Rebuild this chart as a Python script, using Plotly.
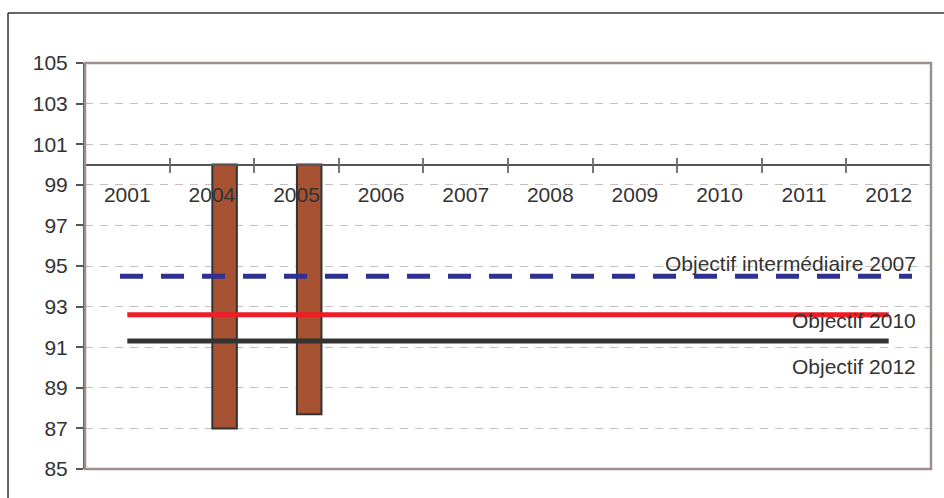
import plotly.graph_objects as go

# Categories on the horizontal axis
years = ["2001", "2004", "2005", "2006", "2007", "2008", "2009", "2010", "2011", "2012"]

# Indicator values (bars hang from the 100 baseline)
bar_years = ["2004", "2005"]
bar_values = [87.0, 87.7]
baseline = 100

# Target levels
objectif_2007 = [94.5] * len(years)
objectif_2010 = [92.6] * len(years)
objectif_2012 = [91.3] * len(years)

y_ticks = list(range(85, 106, 2))

idx = {y: i for i, y in enumerate(years)}
xs = [idx[y] for y in years]
bar_x = [idx[y] for y in bar_years]
boundaries = [i - 0.5 for i in range(len(years) + 1)]

FONT = "Liberation Sans, Arial, sans-serif"
TXT = "#333333"
AX = "#555555"

fig = go.Figure()

fig.add_trace(go.Bar(
    x=bar_x, y=[v - baseline for v in bar_values], base=baseline,
    width=0.29, offset=0.005,
    marker=dict(color="#a65233", line=dict(color="#333333", width=2)),
    showlegend=False, hoverinfo="skip",
))

fig.add_trace(go.Scatter(
    x=xs, y=objectif_2007, mode="lines", xaxis="x3",
    line=dict(color="#2e3192", width=5, dash="23px,18px"),
    showlegend=False, hoverinfo="skip",
))
fig.add_trace(go.Scatter(
    x=xs, y=objectif_2010, mode="lines",
    line=dict(color="#ee1c25", width=5),
    showlegend=False, hoverinfo="skip",
))
fig.add_trace(go.Scatter(
    x=xs, y=objectif_2012, mode="lines",
    line=dict(color="#333333", width=5),
    showlegend=False, hoverinfo="skip",
))
# helper traces so the tick-only axes are drawn
fig.add_trace(go.Scatter(x=[None], y=[None], xaxis="x2", showlegend=False, hoverinfo="skip"))
fig.add_trace(go.Scatter(x=[None], y=[None], xaxis="x4", showlegend=False, hoverinfo="skip"))

axis_pos = (baseline - y_ticks[0]) / (y_ticks[-1] - y_ticks[0])
xr = [-0.5, len(years) - 0.5]

fig.update_layout(
    width=944, height=498,
    margin=dict(l=85, r=13, t=63, b=29),
    paper_bgcolor="white", plot_bgcolor="white",
    font=dict(family=FONT, size=21, color=TXT),
    xaxis=dict(
        range=xr, anchor="free", position=axis_pos,
        tickmode="array", tickvals=xs, ticktext=years, ticks="",
        ticklabelstandoff=11,
        showline=True, linecolor=AX, linewidth=2,
        showgrid=False, zeroline=False,
        tickfont=dict(family=FONT, size=21, color=TXT),
    ),
    xaxis2=dict(
        range=xr, overlaying="x", anchor="free", position=axis_pos,
        tickmode="array", tickvals=boundaries, ticks="inside", ticklen=7,
        tickwidth=1.5, tickcolor="#777777",
        showticklabels=False, showline=False, showgrid=False, zeroline=False,
    ),
    xaxis4=dict(
        range=xr, overlaying="x", anchor="free", position=axis_pos,
        tickmode="array", tickvals=boundaries, ticks="outside", ticklen=7,
        tickwidth=1.5, tickcolor="#777777",
        showticklabels=False, showline=False, showgrid=False, zeroline=False,
    ),
    xaxis3=dict(
        range=[-0.398, 9.216], overlaying="x", visible=False,
    ),
    yaxis=dict(
        range=[y_ticks[0], y_ticks[-1]], tickmode="array", tickvals=y_ticks,
        ticks="outside", ticklen=7, tickwidth=1.5, tickcolor=AX,
        ticklabelstandoff=4,
        showline=True, linecolor=AX, linewidth=2,
        showgrid=True, gridcolor="#c4c0c0", gridwidth=1, griddash="8px,7px",
        zeroline=False,
        tickfont=dict(family=FONT, size=21, color=TXT),
    ),
    shapes=[
        # outer chart frame: left and top edges
        dict(type="line", xref="paper", yref="paper",
             x0=-0.091, x1=-0.091, y0=-0.2, y1=1.1232,
             line=dict(color="#333333", width=1.5), layer="below"),
        dict(type="line", xref="paper", yref="paper",
             x0=-0.091, x1=1.1, y0=1.1232, y1=1.1232,
             line=dict(color="#333333", width=1.5), layer="below"),
        # plot-area border
        dict(type="rect", xref="paper", yref="paper",
             x0=0, x1=1, y0=0, y1=1,
             line=dict(color="#9c8f8c", width=2.5), layer="above"),
    ],
    annotations=[
        dict(text="Objectif intermédiaire 2007", xref="paper", yref="y",
             x=0.985, y=95.1, xanchor="right", yanchor="middle", showarrow=False),
        dict(text="Objectif 2010", xref="paper", yref="y",
             x=0.985, y=92.3, xanchor="right", yanchor="middle", showarrow=False),
        dict(text="Objectif 2012", xref="paper", yref="y",
             x=0.985, y=90.05, xanchor="right", yanchor="middle", showarrow=False),
    ],
)

fig.write_html("out.html")
